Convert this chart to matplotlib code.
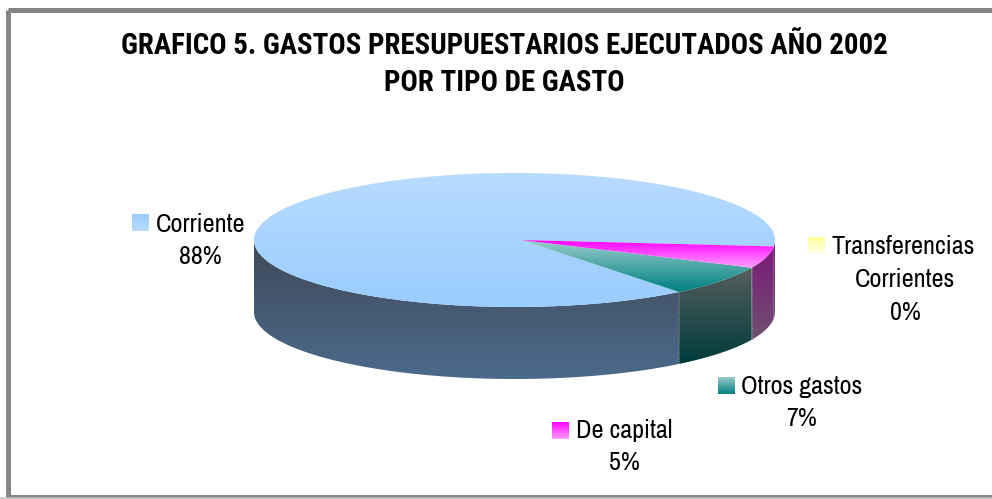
import numpy as np
import matplotlib
matplotlib.use('Agg')
import matplotlib.pyplot as plt
from matplotlib.colors import LinearSegmentedColormap
from matplotlib.patches import Polygon, Rectangle

body_font = ['Archivo Narrow', 'Liberation Sans', 'DejaVu Sans']
title_font = ['Roboto Condensed', 'Liberation Sans', 'DejaVu Sans']

title = 'GRAFICO 5. GASTOS PRESUPUESTARIOS EJECUTADOS AÑO 2002\nPOR TIPO DE GASTO'
names = ['Transferencias\nCorrientes', 'De capital', 'Otros gastos', 'Corriente']
values = [0, 5, 7, 88]

# gradients (top -> bottom) for top face, wall and legend key
top_colors = [('#ffff99', '#ffffee'), ('#ff00ff', '#ffa0ff'), ('#99cccc', '#008080'), ('#b8dbff', '#99ccff')]
wall_colors = [('#7a1a7a', '#705070'), ('#7a1a7a', '#705070'), ('#565e5e', '#003c3c'), ('#3f4a58', '#4c6a8c')]
key_colors = [('#ffff99', '#ffffee'), ('#ff00ff', '#ffa0ff'), ('#99cccc', '#008080'), ('#99ccff', '#b8dbff')]

# layout in pixels
W, H = 992, 499
cx, cy, a, b, depth = 514.5, 240, 260.5, 67, 72
apex_x = 521
start_angle = -5.5
stretch = 1.05  # 3d perspective makes the front slices look wider

# key x, key y, text x, first line y, pct x
labels = [
    (808, 237, 832, 246, 905),
    (552, 422, 576, 430, 624),
    (718, 377, 741, 386, 802),
    (132, 214, 156, 224, 200),
]

fig = plt.figure(figsize=(W / 100, H / 100), dpi=100)
ax = fig.add_axes([0, 0, 1, 1])
ax.set_xlim(0, W)
ax.set_ylim(H, 0)
ax.axis('off')


def gradient(c1, c2, x0, x1, y0, y1, clip):
    cmap = LinearSegmentedColormap.from_list('g', [c1, c2])
    im = ax.imshow(np.linspace(0, 1, 256).reshape(-1, 1), cmap=cmap, aspect='auto',
                   extent=[x0, x1, y1, y0], zorder=2, interpolation='bilinear')
    im.set_clip_path(clip)


def ellipse_pts(t0, t1, n=200):
    t = np.radians(np.linspace(t0, t1, n))
    return cx + a * np.cos(t), cy - b * np.sin(t)


# slice angles, going clockwise from the right edge
angles = [start_angle]
for v in values[:3]:
    angles.append(angles[-1] - v * 3.6 * stretch)
angles.append(start_angle - 360)

for i in range(4):
    t0, t1 = angles[i], angles[i + 1]
    if t0 == t1:
        continue
    # wall, only the part facing the viewer
    w1 = -180 if i == 3 else t1
    xs, ys = ellipse_pts(t0, w1)
    pts = np.column_stack([np.r_[xs, xs[::-1]], np.r_[ys, ys[::-1] + depth]])
    wall = Polygon(pts, closed=True, fc='none', ec='none')
    ax.add_patch(wall)
    wall_top = cy if i == 3 else ys.min()
    gradient(wall_colors[i][0], wall_colors[i][1], pts[:, 0].min(), pts[:, 0].max(),
             wall_top, pts[:, 1].max(), wall)

# right hand sliver of the wall, above the start angle
xs, ys = ellipse_pts(0, start_angle, 20)
pts = np.column_stack([np.r_[xs, xs[::-1]], np.r_[ys, ys[::-1] + depth]])
wall = Polygon(pts, closed=True, fc='none', ec='none')
ax.add_patch(wall)
gradient(wall_colors[1][0], wall_colors[1][1], pts[:, 0].min(), pts[:, 0].max(),
         pts[:, 1].min(), pts[:, 1].max(), wall)

for i in [3, 2, 1]:
    xs, ys = ellipse_pts(angles[i], angles[i + 1], 400)
    pts = np.column_stack([np.r_[apex_x, xs], np.r_[cy, ys]])
    top = Polygon(pts, closed=True, fc='none', ec='none')
    ax.add_patch(top)
    gradient(top_colors[i][0], top_colors[i][1], pts[:, 0].min(), pts[:, 0].max(),
             pts[:, 1].min(), pts[:, 1].max(), top)

# faint seams between the wall pieces
for t in [angles[2], angles[3]]:
    x, y = ellipse_pts(t, t, 1)
    ax.plot([x[0], x[0]], [y[0], y[0] + depth], color='#9a9a9a', lw=0.6, ls=':', zorder=3)

# legend keys and labels
for name, v, lab, col in zip(names, values, labels, key_colors):
    kx, ky, tx, ty, px = lab
    key = Rectangle((kx, ky), 17, 17, fc='none', ec='none')
    ax.add_patch(key)
    gradient(col[0], col[1], kx, kx + 17, ky, ky + 17, key)
    lines = name.split('\n')
    ax.text(tx, ty, lines[0], fontsize=18.8, family=body_font, ha='left', va='center', zorder=5)
    y = ty
    for line in lines[1:]:
        y += 33.5
        ax.text(px, y, line, fontsize=18.8, family=body_font, ha='center', va='center', zorder=5)
    ax.text(px, y + 33, f'{v}%', fontsize=18.8, family=body_font, ha='center', va='center', zorder=5)

ax.text(504, 64.5, title, fontsize=20.8, family=title_font, fontweight='bold', ha='center', va='center',
        linespacing=1.45, zorder=5)

# chart frame, open on the right
ax.add_patch(Rectangle((7.5, 9.5), 990, 487.5, fc='none', ec='#858585', lw=3.6, zorder=6))
ax.plot([0, W], [498.3, 498.3], color='#c8c8c8', lw=1.2, zorder=7)

ax.set_xlim(0, W)
ax.set_ylim(H, 0)
fig.savefig('out.png', dpi=100)
